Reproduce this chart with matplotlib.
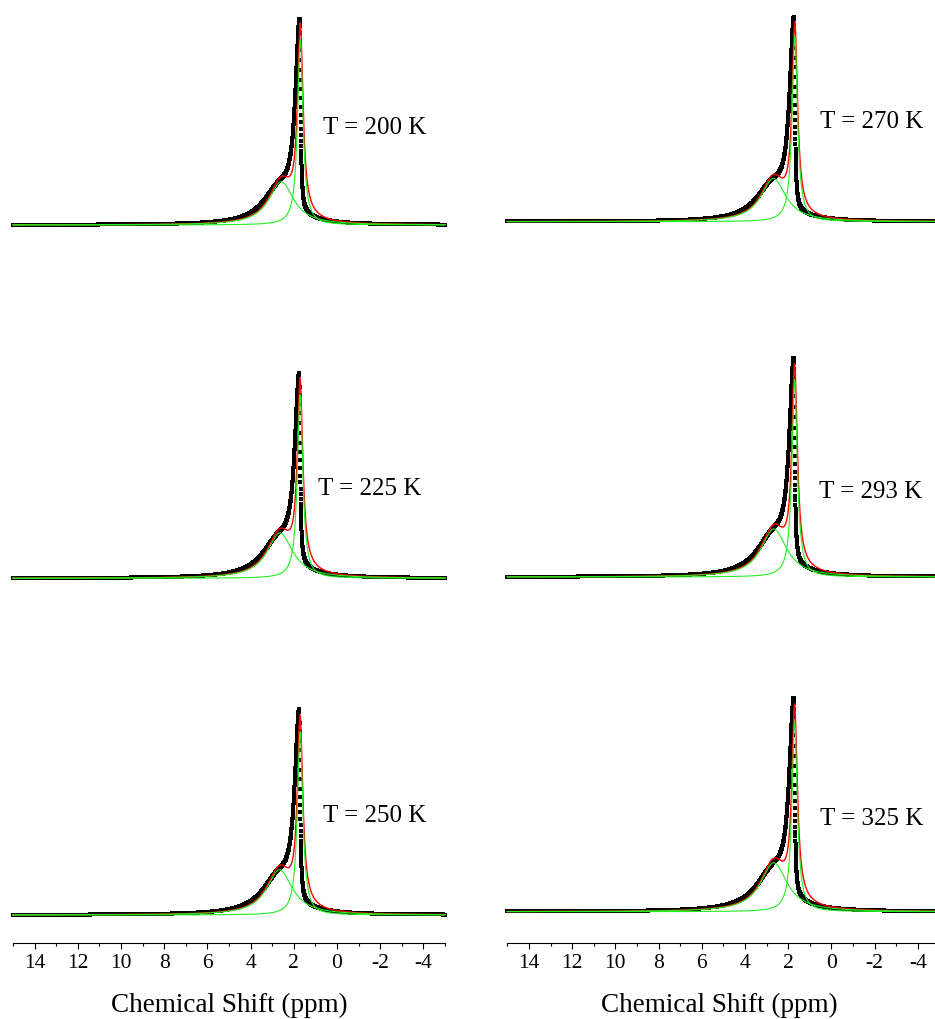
import numpy as np
import matplotlib.pyplot as plt

plt.rcParams['font.family'] = ['Liberation Serif', 'DejaVu Serif']
plt.rcParams['axes.unicode_minus'] = False

# panels in order: top-left, top-right, mid-left, mid-right, bottom-left, bottom-right
temps = ['200', '270', '225', '293', '250', '325']
peak_scale = [1.0, 1.0, 1.0, 1.06, 1.0, 1.035]

# fitted lorentzians (centre ppm, half width ppm, height)
fit_narrow_pos = [1.70, 1.69, 1.71, 1.70, 1.71, 1.70]
fit_narrow_hw = [0.15, 0.15, 0.15, 0.15, 0.15, 0.15]
fit_narrow_h = [0.90, 0.90, 0.89, 0.90, 0.89, 0.89]
fit_broad_pos = [2.58, 2.68, 2.64, 2.66, 2.66, 2.66]
fit_broad_hw = [0.70, 0.70, 0.72, 0.72, 0.72, 0.74]
fit_broad_h = [0.21, 0.21, 0.22, 0.22, 0.22, 0.23]

# measured line, described by an asymmetric narrow line plus a broad one
dat_narrow_pos = [1.73, 1.73, 1.75, 1.74, 1.75, 1.74]
dat_narrow_hwl = [0.24, 0.24, 0.25, 0.25, 0.25, 0.25]
dat_narrow_hwr = [0.05, 0.05, 0.05, 0.05, 0.05, 0.05]
dat_narrow_h = [0.925, 0.925, 0.92, 0.925, 0.92, 0.92]
dat_broad_pos = [2.68, 2.74, 2.72, 2.72, 2.72, 2.72]
dat_broad_hw = [0.90, 0.90, 0.92, 0.92, 0.92, 0.94]
dat_broad_h = [0.16, 0.16, 0.165, 0.165, 0.165, 0.17]

ppm = np.arange(15, -5.0001, -0.004)


def lor(x, c, w, h):
    return h * w**2 / (w**2 + (x - c)**2)


def lor_asym(x, c, wl, wr, h):
    w = np.where(x > c, wl, wr)
    return h * w**2 / (w**2 + (x - c)**2)


W, H = 935, 1019
fig = plt.figure(figsize=(W / 100, H / 100), dpi=100)

# pixel layout: (left, right, baseline)
boxes = [(13, 445, 225), (507.3, 939.3, 221.7),
         (13, 445, 578.3), (507.3, 939.3, 577),
         (13, 445, 915), (507.3, 939.3, 911.7)]
txt_pos = [(323, 134), (820, 128), (318, 495), (819, 498), (323, 822), (820, 825)]
ppu = 206.0
hpx = 250

green = '#22ee22'
for i in range(6):
    l, r, base = boxes[i]
    bottom_row = i >= 4
    off = 943.3 - base if bottom_row else 28
    ax = fig.add_axes([l / W, 1 - (base + off) / H, (r - l) / W, hpx / H])
    ax.set_xlim(15, -5)
    ax.set_ylim(-off / ppu, (hpx - off) / ppu)

    s = peak_scale[i]
    g1 = s * lor(ppm, fit_narrow_pos[i], fit_narrow_hw[i], fit_narrow_h[i])
    g2 = s * lor(ppm, fit_broad_pos[i], fit_broad_hw[i], fit_broad_h[i])
    data = s * (lor_asym(ppm, dat_narrow_pos[i], dat_narrow_hwl[i], dat_narrow_hwr[i], dat_narrow_h[i])
                + lor(ppm, dat_broad_pos[i], dat_broad_hw[i], dat_broad_h[i]))

    ax.plot(ppm, data, 's', color='black', ms=3.4, mew=0, clip_on=False)
    ax.plot(ppm, g1 + g2, '-', color='red', lw=1.0, clip_on=False)
    ax.plot(ppm, g1, '-', color=green, lw=0.8, clip_on=False)
    ax.plot(ppm, g2, '-', color=green, lw=0.8, clip_on=False)

    for sp in ['left', 'right', 'top']:
        ax.spines[sp].set_visible(False)
    ax.set_yticks([])
    if bottom_row:
        ax.spines['bottom'].set_linewidth(0.8)
        ax.set_xticks(range(14, -5, -2))
        ax.set_xticks(range(15, -6, -2), minor=True)
        ax.tick_params(axis='x', which='major', direction='out', length=4.1, width=0.8,
                       labelsize=15.5, pad=3.5)
        ax.tick_params(axis='x', which='minor', direction='out', length=2.2, width=0.8)
        fig.text((l + r) / 2 / W - (0.004 if i == 5 else 0), 1 - 1011.5 / H,
                 'Chemical Shift (ppm)', ha='center', va='baseline', fontsize=19.5)
    else:
        ax.spines['bottom'].set_visible(False)
        ax.set_xticks([])

    tx, ty = txt_pos[i]
    fig.text(tx / W, 1 - ty / H, 'T = %s K' % temps[i], ha='left', va='baseline', fontsize=18)

fig.savefig('out.png', dpi=100)
